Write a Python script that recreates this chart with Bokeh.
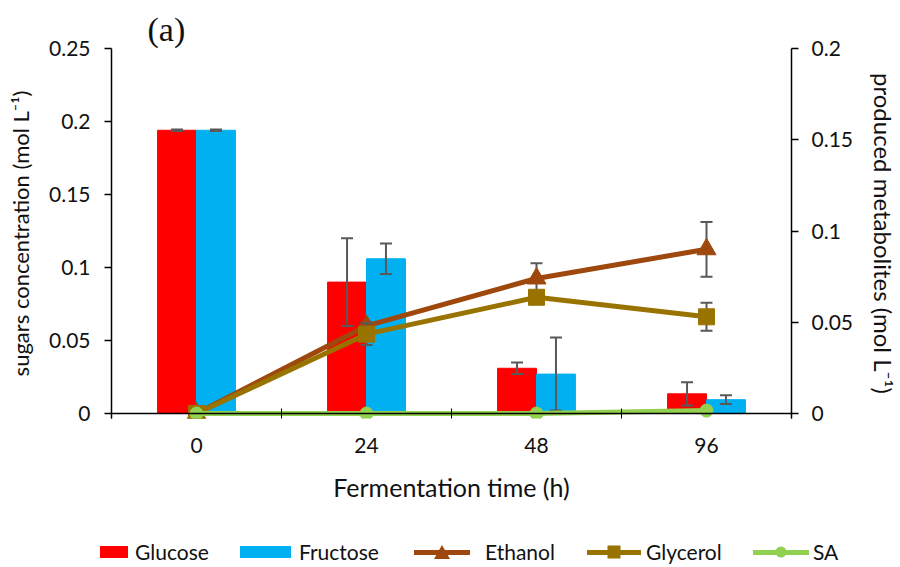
from bokeh.plotting import figure
from bokeh.layouts import column
from bokeh.models import Range1d, LinearAxis, FixedTicker, Span, Div
from bokeh.embed import file_html
from bokeh.resources import INLINE

# ---------------- data ----------------
categories = ["0", "24", "48", "96"]
glucose = [0.194, 0.090, 0.031, 0.0135]
glucose_err = [0.0005, 0.030, 0.004, 0.008]
fructose = [0.194, 0.106, 0.027, 0.0095]
fructose_err = [0.0005, 0.0105, 0.025, 0.003]
ethanol = [0.0, 0.048, 0.074, 0.090]
ethanol_err = [0.0, 0.002, 0.0084, 0.015]
glycerol = [0.0, 0.0435, 0.0637, 0.053]
glycerol_err = [0.0, 0.006, 0.002, 0.0077]
sa = [0.0, 0.0, 0.0, 0.0016]
series_names = ["Glucose", "Fructose", "Ethanol", "Glycerol", "SA"]
left_ticks = [0, 0.05, 0.1, 0.15, 0.2, 0.25]
left_tick_labels = ["0", "0.05", "0.1", "0.15", "0.2", "0.25"]
right_ticks = [0, 0.05, 0.1, 0.15, 0.2]
right_tick_labels = ["0", "0.05", "0.1", "0.15", "0.2"]

FONT = "Lato"
TXT = "#111111"
ERR = "#595959"
C_GLU, C_FRU = "#FF0000", "#00B0F0"
C_ETH, C_GLY, C_SA = "#9E480E", "#997300", "#92D050"

n = len(categories)
xc = [i + 0.5 for i in range(n)]
bw = 0.229
xg = [x - bw / 2 for x in xc]
xf = [x + bw / 2 for x in xc]

# small room below zero so that marks on the zero line are not cut
L_MAX, R_MAX = 0.25, 0.2
pad = 0.0034
p = figure(width=900, height=530, output_backend="svg", toolbar_location=None,
           x_range=Range1d(0, n), y_range=Range1d(-pad, L_MAX),
           min_border_left=111, min_border_right=107, min_border_top=48,
           min_border_bottom=112, outline_line_color=None)
p.extra_y_ranges = {"right": Range1d(-pad * R_MAX / L_MAX, R_MAX)}
p.grid.visible = False

# title
p.title.text = "(a)"
p.title.text_font = "Liberation Serif"
p.title.text_font_size = "34px"
p.title.text_font_style = "normal"
p.title.text_color = TXT
p.title.align = "left"
p.title.offset = 36
p.title.standoff = 2

# axes
xa = p.xaxis[0]
xa.ticker = FixedTicker(ticks=xc, minor_ticks=list(range(n + 1)))
xa.major_label_overrides = {x: c for x, c in zip(xc, categories)}
xa.major_tick_in = 0
xa.major_tick_out = 0
xa.minor_tick_in = 10
xa.minor_tick_out = 0
xa.minor_tick_line_color = "black"
xa.axis_line_color = None
xa.axis_label = "Fermentation time (h)"

ya = p.yaxis[0]
ya.ticker = FixedTicker(ticks=left_ticks, minor_ticks=[])
ya.major_label_overrides = {t: l for t, l in zip(left_ticks, left_tick_labels)}
ya.axis_label = "sugars concentration (mol L\u207B\u00B9)"

ra = LinearAxis(y_range_name="right",
                ticker=FixedTicker(ticks=right_ticks, minor_ticks=[]),
                axis_label="produced metabolites (mol L\u207B\u00B9)")
ra.major_label_overrides = {t: l for t, l in zip(right_ticks, right_tick_labels)}
p.add_layout(ra, "right")

for ax in (xa, ya, ra):
    ax.major_label_text_font = FONT
    ax.major_label_text_font_size = "21px"
    ax.major_label_text_color = TXT
    ax.axis_label_text_font = FONT
    ax.axis_label_text_font_size = "24px"
    ax.axis_label_text_font_style = "normal"
    ax.axis_label_text_color = TXT
xa.axis_label_text_font_size = "25px"
ya.axis_label_text_font_size = "22px"
for ax in (ya, ra):
    ax.axis_line_color = "black"
    ax.axis_line_width = 1.5
    ax.major_tick_in = 0
    ax.major_tick_out = 7
    ax.major_tick_line_color = "black"
    ax.major_tick_line_width = 1.5
    ax.minor_tick_line_color = None
ya.major_label_standoff = 14
ya.axis_label_standoff = 12
ra.major_label_standoff = 13
ra.axis_label_standoff = 13
xa.major_label_standoff = 19
xa.axis_label_standoff = 16

p.add_layout(Span(location=0, dimension="width", line_color="black", line_width=1.5))


def errbars(x, y, e, **kw):
    lo = [a - b for a, b in zip(y, e)]
    hi = [a + b for a, b in zip(y, e)]
    p.segment(x0=x, y0=lo, x1=x, y1=hi, line_color=ERR, line_width=2, **kw)
    p.scatter(x=x + x, y=lo + hi, marker="dash", size=12, line_color=ERR,
              line_width=2, **kw)


# bars
p.vbar(x=xg, top=glucose, width=bw, fill_color=C_GLU, line_color=C_GLU)
p.vbar(x=xf, top=fructose, width=bw, fill_color=C_FRU, line_color=C_FRU)
errbars(xg, glucose, glucose_err)
errbars(xf, fructose, fructose_err)

# lines
R = dict(y_range_name="right")
p.line(xc, ethanol, line_color=C_ETH, line_width=5, **R)
errbars(xc, ethanol, ethanol_err, **R)
p.scatter(xc, ethanol, marker="triangle", size=19, fill_color=C_ETH,
          line_color=C_ETH, **R)
p.line(xc, glycerol, line_color=C_GLY, line_width=5, **R)
errbars(xc, glycerol, glycerol_err, **R)
p.scatter(xc, glycerol, marker="square", size=16, fill_color=C_GLY,
          line_color=C_GLY, **R)
p.line(xc, sa, line_color=C_SA, line_width=5, **R)
p.scatter(xc, sa, marker="circle", size=13, fill_color=C_SA,
          line_color=C_SA, **R)

# ---------------- legend row (below the chart) ----------------
MK = "position:absolute;left:50%;top:50%;transform:translate(-50%,-50%);"
markers = [
    "",
    "",
    MK + "width:0;height:0;border-left:8px solid transparent;"
         "border-right:8px solid transparent;border-bottom:14px solid %s;" % C_ETH,
    MK + "width:13px;height:13px;background:%s;" % C_GLY,
    MK + "width:11px;height:11px;border-radius:50%%;background:%s;" % C_SA,
]
swatches = [  # (left, width, height, colour)
    (100, 28, 12, C_GLU),
    (240, 51, 12, C_FRU),
    (414, 56, 5, C_ETH),
    (587, 54, 5, C_GLY),
    (753, 56, 5, C_SA),
]
gaps = [7, 8, 15, 5, 4]
parts = []
for name, (left, w, h, c), mk, g in zip(series_names, swatches, markers, gaps):
    inner = '<div style="%s"></div>' % mk if mk else ""
    parts.append(
        '<div style="position:absolute;left:%dpx;top:6px;height:32px;display:flex;'
        'align-items:center;white-space:nowrap;">'
        '<div style="position:relative;width:%dpx;height:%dpx;background:%s;'
        'margin-right:%dpx;flex:none;">%s</div>'
        '<span>%s</span></div>' % (left, w, h, c, g, inner, name))
html = ('<div style="position:relative;width:900px;height:37px;margin:0;padding:0;'
        'font-family:Lato;font-size:21px;line-height:32px;color:%s;">%s</div>'
        % (TXT, "".join(parts)))
leg = Div(text=html, width=900, height=37, styles={"margin": "0", "padding": "0"})

layout = column(p, leg, spacing=0)
open("out.html", "w").write(file_html(layout, INLINE))
